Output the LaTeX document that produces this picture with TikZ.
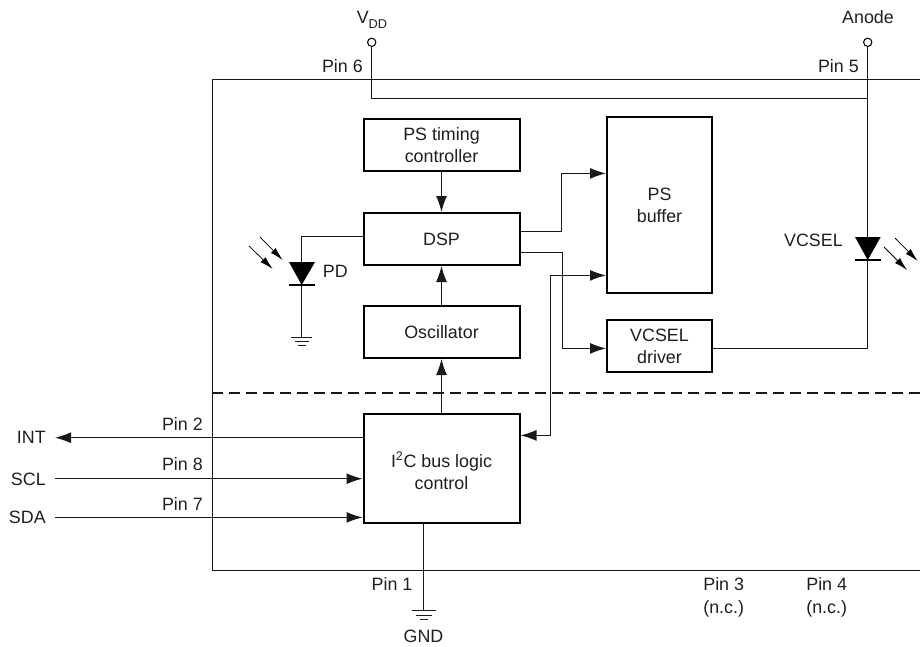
\documentclass[tikz,border=0pt]{standalone}
\usepackage{fontspec}
\setmainfont{Liberation Sans}
\usetikzlibrary{arrows.meta,calc}
\newcommand{\subdd}{\raisebox{-3.6pt}{\fontsize{9.6pt}{10pt}\selectfont DD}}
\tikzset{
  x=0.75pt,y=-0.75pt,
  every node/.style={font=\fontsize{13.4pt}{16.5pt}\selectfont,text=black!88},
  blk/.style={draw=black,line width=1.5pt,fill=white,align=center,inner sep=0pt},
  wire/.style={draw=black!90,line width=0.8pt},
  arr/.style={wire,-{Latex[length=12pt,width=8.2pt]}},
  barr/.style={wire,{Latex[length=12pt,width=8.2pt]}-{Latex[length=12pt,width=8.2pt]}},
  ray/.style={draw=black,line width=0.55pt,-{Latex[length=10pt,width=5.2pt]}},
  term/.style={circle,draw=black,fill=white,line width=0.8pt,minimum size=6.2pt,inner sep=0pt},
  lbl/.style={inner sep=0pt,anchor=base},
  lblr/.style={inner sep=0pt,anchor=base east}
}
\begin{document}
\begin{tikzpicture}
\useasboundingbox (0,0) rectangle (920,646);
% outer package
\draw[wire] (920,79.4) -- (212.4,79.4) -- (212.4,570.6) -- (920,570.6);
\draw[draw=black!90,line width=1.2pt,dash pattern=on 8pt off 4.75pt] (212,392.7) -- (920,392.7);
% blocks
\node[blk,minimum width=117pt,minimum height=39pt] (tim) at (441.5,145) {PS timing\\controller};
\node[blk,minimum width=117pt,minimum height=39pt] (dsp) at (441.5,239) {DSP};
\node[blk,minimum width=117pt,minimum height=39pt] (osc) at (441.5,332) {Oscillator};
\node[blk,minimum width=117pt,minimum height=81.5pt] (i2c) at (441.5,468.3) {\rule{0pt}{16pt}I\textsuperscript{2}C bus logic\\control};
\node[blk,minimum width=78.75pt,minimum height=132pt] (buf) at (659.5,205) {PS\\buffer};
\node[blk,minimum width=78.75pt,minimum height=39pt] (drv) at (659.5,346) {VCSEL\\driver};
% block connectors
\draw[arr] (tim) -- (dsp);
\draw[arr] (osc) -- (dsp);
\draw[arr] (i2c) -- (osc);
\draw[arr] (dsp.east |- 0,231.4) -- (561.4,231.4) -- (561.4,173.4) -- (buf.west |- 0,173.4);
\draw[arr] (dsp.east |- 0,252.4) -- (562.4,252.4) -- (562.4,348.4) -- (drv.west |- 0,348.4);
\draw[barr] (i2c.east |- 0,435.4) -- (550.4,435.4) -- (550.4,275.4) -- (buf.west |- 0,275.4);
% PD
\coordinate (pdtop) at (301.7,236.4);
\coordinate (pdA) at (301.7,262);
\coordinate (pdK) at (301.7,285);
\coordinate (pdG) at (301.7,337.5);
\draw[wire] (dsp.west |- pdtop) -- (pdtop) -- (pdA);
\draw[wire] (pdK) -- (pdG);
\fill[black] (289,262) -- (315,262) -- (301.7,285) -- cycle;
\draw[draw=black,line width=1.5pt] (289,285) -- (315,285);
\draw[wire] (291,337.5) -- (312,337.5);
\draw[wire] (295,341.4) -- (308.5,341.4);
\draw[wire] (298,345.4) -- (306,345.4);
\node[lblr] (pd) at (348,277.7) {PD};
\coordinate (r1s) at (260,237); \coordinate (r1e) at (282.7,260);
\coordinate (r2s) at (249,246); \coordinate (r2e) at (272.7,269);
\draw[ray] (r1s) -- (r1e);
\draw[ray] (r2s) -- (r2e);
% VDD
\node[term] (vdd) at (371.7,42.3) {};
\node[lbl] at (372,23.5) (vddl) {V\subdd};
\node[lblr] at (363,72.7) (p6) {Pin 6};
\coordinate (j) at (867.7,98.4);
\draw[wire] (vdd) -- (371.7,98.4) -- (j);
% Anode / VCSEL
\node[term] (an) at (867.7,42.3) {};
\node[lbl] at (868,23) (anl) {Anode};
\node[lblr] at (859,72.7) (p5) {Pin 5};
\coordinate (vA) at (867.7,237);
\coordinate (vK) at (867.7,260);
\draw[wire] (an) -- (vA);
\fill[black] (855,237) -- (880.7,237) -- (867.7,260) -- cycle;
\draw[draw=black,line width=1.5pt] (855,260) -- (880.7,260);
\draw[wire] (vK) -- (867.7,348.4) -- (drv.east |- 0,348.4);
\node[lblr] at (843,246.7) (vc) {VCSEL};
\coordinate (r3s) at (895,238); \coordinate (r3e) at (917.7,261);
\coordinate (r4s) at (884,247); \coordinate (r4e) at (907,270);
\draw[ray] (r3s) -- (r3e);
\draw[ray] (r4s) -- (r4e);
% left signals
\node[lblr] (int) at (46,443) {INT};
\node[lblr] (scl) at (46,485) {SCL};
\node[lblr] (sda) at (46,523) {SDA};
\coordinate (o1) at (55,437.7);
\coordinate (o2) at (55,478.7);
\coordinate (o3) at (55,517.4);
\draw[arr] (i2c.west |- o1) -- (o1);
\draw[arr] (o2) -- (i2c.west |- o2);
\draw[arr] (o3) -- (i2c.west |- o3);
\node[lblr] at (203,430) (p2) {Pin 2};
\node[lblr] at (203,470) (p8) {Pin 8};
\node[lblr] at (203,510) (p7) {Pin 7};
% GND
\coordinate (gb) at (423.7,610.7);
\draw[wire] (i2c.south -| gb) -- (gb);
\draw[wire] (411.7,610.7) -- (436,610.7);
\draw[wire] (416,615.4) -- (431.5,615.4);
\draw[wire] (420,619.4) -- (428,619.4);
\node[lblr] at (412.7,590.7) (p1) {Pin 1};
\node[lbl] at (423.5,642.7) (gnd) {GND};
% nc pins
\node[lbl] at (723.7,590.7) (p3) {Pin 3};
\node[lbl] at (723.7,613) (n3) {(n.c.)};
\node[lbl] at (826.7,590.7) (p4) {Pin 4};
\node[lbl] at (826.7,613) (n4) {(n.c.)};
\end{tikzpicture}
\end{document}
